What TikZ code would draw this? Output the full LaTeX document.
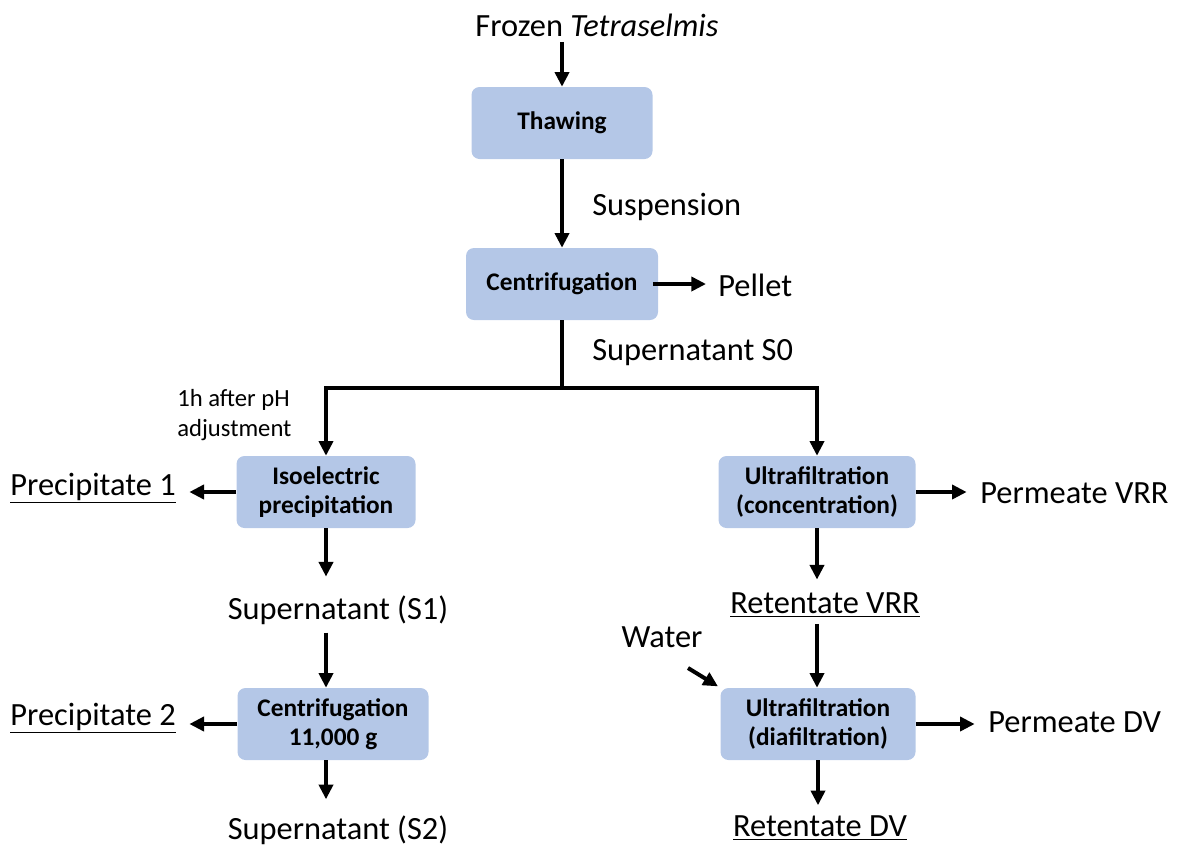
\documentclass[tikz,border=0pt]{standalone}
\usepackage{fontspec}
\setmainfont{Carlito}
\usetikzlibrary{arrows.meta}
\definecolor{boxblue}{HTML}{B4C7E7}

\begin{document}
\begin{tikzpicture}[x=0.75pt, y=-0.75pt,
  proc/.style={fill=boxblue, rounded corners=6pt, minimum height=54pt,
               align=center, inner sep=2pt, font=\fontsize{19}{22}\selectfont\bfseries},
  lbl/.style={inner sep=0pt, font=\fontsize{24.3}{28}\selectfont},
  note/.style={inner sep=0pt, align=left, font=\fontsize{18.5}{22.5}\selectfont},
  line/.style={line width=3pt},
  arr/.style={line width=3pt, -{Triangle[length=11pt, width=10.5pt]}}
]
\useasboundingbox (0,0) rectangle (1177,850);
% ---- main stem ----
\node[lbl] (frozen) at (597,25) {Frozen \textit{Tetraselmis}};
\node[proc, minimum width=135.75pt] (thaw) at (562,123) {Thawing};
\node[lbl, anchor=west] (susp) at (592,207) {Suspension};
\node[proc, minimum width=144pt] (cent) at (562,284) {Centrifugation};
\node[lbl, anchor=west] (pellet) at (718,285) {Pellet};
\node[lbl, anchor=west] (s0) at (592,353) {Supernatant S0};
\coordinate (split) at (562,388);
\draw[arr, shorten <=4pt] (thaw.north |- frozen.south) -- (thaw.north);
\draw[arr] (thaw.south) -- (cent.north);
\draw[arr, shorten <=-4pt, shorten >=9pt] (cent.east) -- (cent.east -| pellet.west);
\draw[line] (cent.south) -- (split);
% ---- left branch: isoelectric precipitation ----
\node[note, anchor=west] (adj) at (177,415) {1h after pH\\adjustment};
\node[proc, minimum width=134.25pt] (iso) at (326,492) {Isoelectric\\precipitation};
\node[lbl, anchor=east] (p1) at (176,488) {\underline{Precipitate 1}};
\node[lbl] (s1) at (338,610) {Supernatant (S1)};
\node[proc, minimum width=143.25pt] (cent2) at (333,724) {Centrifugation\\11,000 g};
\node[lbl, anchor=east] (p2) at (176,718) {\underline{Precipitate 2}};
\node[lbl] (s2) at (338,830) {Supernatant (S2)};
\draw[arr] (split) -| (iso.north);
\draw[arr, shorten >=10pt] (iso.west) -- (iso.west -| p1.east);
\draw[arr, shorten >=14pt] (iso.south) -- (iso.south |- s1.north);
\draw[arr, shorten <=6pt] (iso.south |- s1.south) -- (iso.south |- cent2.north);
\draw[arr, shorten >=10pt] (cent2.west) -- (cent2.west -| p2.east);
\draw[arr, shorten >=12pt] (iso.south |- cent2.south) -- (iso.south |- s2.north);
% ---- right branch: ultrafiltration ----
\node[proc, minimum width=147.75pt] (ufc) at (817,492) {Ultrafiltration\\(concentration)};
\node[lbl, anchor=west] (pvrr) at (980,493) {Permeate VRR};
\node[lbl] (rvrr) at (825,605) {\underline{Retentate VRR}};
\node[lbl] (water) at (662,637) {Water};
\node[proc, minimum width=146.25pt] (ufd) at (818,724) {Ultrafiltration\\(diafiltration)};
\node[lbl, anchor=west] (pdv) at (988,722) {Permeate DV};
\node[lbl] (rdv) at (820,828) {\underline{Retentate DV}};
\coordinate (win) at (688,668);
\draw[arr] (split) -| (ufc.north);
\draw[arr, shorten >=10pt] (ufc.east) -- (ufc.east -| pvrr.west);
\draw[arr, shorten >=10pt] (ufc.south) -- (ufc.south |- rvrr.north);
\draw[arr, shorten <=5pt] (ufc.south |- rvrr.south) -- (ufc.south |- ufd.north);
\draw[arr, shorten >=2pt] (win) -- (ufd.north west);
\draw[arr, shorten >=10pt] (ufd.east) -- (ufd.east -| pdv.west);
\draw[arr, shorten >=8pt] (ufd.south) -- (ufd.south |- rdv.north);
\end{tikzpicture}
\end{document}
